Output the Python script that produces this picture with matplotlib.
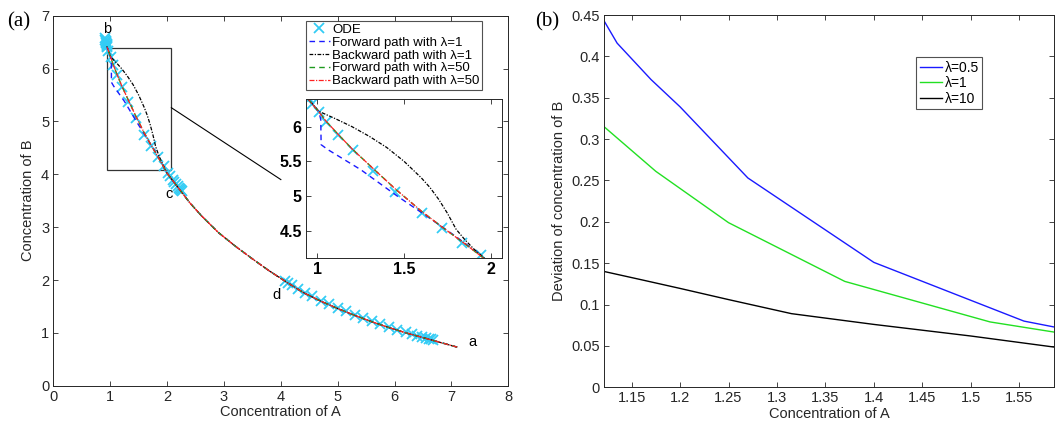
# Reaction paths (a) and deviation of B (b)
import matplotlib
matplotlib.use('Agg')
import matplotlib.pyplot as plt
from matplotlib.patches import Rectangle

plt.rcParams['font.family'] = ['Liberation Sans', 'DejaVu Sans']

# --- panel (a) data ---
# shared lower branch, from a back to c
lower_A = [7.10, 6.80, 6.50, 6.20, 5.90, 5.60, 5.30, 5.00, 4.70, 4.40, 4.10,
           3.80, 3.50, 3.20, 2.90, 2.60, 2.40, 2.20, 2.00]
lower_B = [0.73, 0.82, 0.91, 1.00, 1.10, 1.21, 1.33, 1.46, 1.60, 1.76, 1.96,
           2.17, 2.40, 2.64, 2.90, 3.22, 3.46, 3.74, 4.02]

# upper branches, from c up to b
fwd1_A = [1.96, 1.92, 1.79, 1.63, 1.46, 1.25, 1.06, 1.022, 1.02, 1.01, 0.94]
fwd1_B = [4.10, 4.19, 4.43, 4.71, 5.00, 5.38, 5.67, 5.74, 6.10, 6.21, 6.42]
bwd1_A = [1.96, 1.90, 1.85, 1.80, 1.75, 1.70, 1.65, 1.60, 1.50, 1.40, 1.30,
          1.20, 1.10, 1.01, 0.94]
bwd1_B = [4.11, 4.24, 4.37, 4.52, 4.75, 4.95, 5.12, 5.26, 5.50, 5.70, 5.86,
          6.00, 6.12, 6.22, 6.42]
fwd50_A = [1.96, 1.84, 1.72, 1.60, 1.45, 1.32, 1.20, 1.12, 1.05, 1.01, 0.97, 0.94]
fwd50_B = [4.10, 4.33, 4.55, 4.78, 5.10, 5.40, 5.68, 5.89, 6.08, 6.21, 6.33, 6.42]
bwd50_A = fwd50_A
bwd50_B = fwd50_B

ode_A = [0.905, 0.915, 0.92, 0.925, 0.93, 0.935, 0.94, 0.945, 0.95,
         0.969, 1.010, 1.052, 1.122, 1.203, 1.319, 1.448, 1.602, 1.718, 1.834, 1.946,
         2.02, 2.06, 2.10, 2.13, 2.16, 2.19, 2.21, 2.23, 2.25, 2.26,
         4.07, 4.13, 4.20, 4.30, 4.42, 4.55, 4.70, 4.85, 5.00, 5.15, 5.30, 5.45,
         5.60, 5.75, 5.90, 6.05, 6.20, 6.30, 6.40, 6.48, 6.55, 6.60, 6.64, 6.68]
ode_B = [6.57, 6.54, 6.52, 6.50, 6.48, 6.46, 6.44, 6.42, 6.40,
         6.327, 6.214, 6.071, 5.881, 5.657, 5.367, 5.062, 4.748, 4.533, 4.319, 4.152,
         4.02, 3.96, 3.90, 3.86, 3.81, 3.77, 3.74, 3.72, 3.70, 3.68,
         1.99, 1.95, 1.90, 1.83, 1.76, 1.69, 1.61, 1.54, 1.47, 1.41, 1.34, 1.28,
         1.22, 1.16, 1.11, 1.06, 1.01, 0.98, 0.95, 0.925, 0.905, 0.89, 0.88, 0.87]

point_labels = ['a', 'b', 'c', 'd']
point_A = [7.37, 0.95, 2.04, 3.92]
point_B = [0.83, 6.74, 3.63, 1.72]

# --- panel (b) data ---
dev05_A = [1.1215, 1.135, 1.17, 1.20, 1.27, 1.40, 1.555, 1.59]
dev05_B = [0.443, 0.416, 0.372, 0.339, 0.253, 0.151, 0.080, 0.072]
dev1_A = [1.1215, 1.175, 1.25, 1.37, 1.52, 1.59]
dev1_B = [0.315, 0.261, 0.199, 0.128, 0.079, 0.066]
dev10_A = [1.1215, 1.16, 1.20, 1.25, 1.315, 1.40, 1.50, 1.59]
dev10_B = [0.140, 0.130, 0.1195, 0.106, 0.089, 0.076, 0.062, 0.048]

DARK = '#262626'
ODE_COLOR = '#33ccf5'


def style_axes(ax, fs=10.5):
    ax.tick_params(direction='in', top=True, right=True, length=3.5, width=0.6,
                   labelsize=fs, colors=DARK, pad=3)
    for s in ax.spines.values():
        s.set_color(DARK)
        s.set_linewidth(0.7)


def draw_paths(ax, with_labels=False):
    lab = (lambda s: s) if with_labels else (lambda s: None)
    ax.plot(ode_A, ode_B, 'x', color=ODE_COLOR, ms=7, mew=1.3, label=lab('ODE'))
    ax.plot(lower_A + fwd1_A, lower_B + fwd1_B, color='#1a1aff',
            lw=1.0, ls=(0, (4, 3)), label=lab('Forward path with λ=1'))
    ax.plot(lower_A + bwd1_A, lower_B + bwd1_B, color='black',
            lw=0.9, ls=(0, (3, 1.2, 1, 1.2)), label=lab('Backward path with λ=1'))
    ax.plot(lower_A + fwd50_A, lower_B + fwd50_B, color='#1f9a1f',
            lw=1.0, ls=(0, (4, 3)), label=lab('Forward path with λ=50'))
    ax.plot(lower_A + bwd50_A, lower_B + bwd50_B, color='#ff2020',
            lw=0.9, ls=(0, (4, 1.2, 1, 1.2)), label=lab('Backward path with λ=50'))


fig = plt.figure(figsize=(10.56, 4.24), dpi=100)

# ---- (a) main ----
ax = fig.add_axes([0.0505, 0.0903, 0.4309, 0.8726])
draw_paths(ax, with_labels=True)
for s, x, y in zip(point_labels, point_A, point_B):
    ax.text(x, y, s, fontsize=10.5, ha='center', va='center', color='black')
ax.add_patch(Rectangle((0.94, 4.09), 1.135, 2.30, fill=False, ec='#333333', lw=0.9))
ax.plot([2.075, 4.0], [5.26, 3.90], color='black', lw=0.8)
ax.set_xlim(0, 8)
ax.set_ylim(0, 7)
ax.set_xticks(range(0, 9))
ax.set_yticks(range(0, 8))
ax.set_xlabel('Concentration of A', fontsize=10.5, color=DARK, labelpad=1)
ax.set_ylabel('Concentration of B', fontsize=10.5, color=DARK, labelpad=4)
style_axes(ax)
leg = ax.legend(loc='upper left', bbox_to_anchor=(0.555, 0.986), fontsize=9.5,
                frameon=True, fancybox=False, edgecolor=DARK, handlelength=1.6,
                handletextpad=0.2, borderpad=0.2, labelspacing=0.05,
                borderaxespad=0, numpoints=1)
leg.get_frame().set_linewidth(0.8)

# ---- (a) inset ----
axi = fig.add_axes([0.2898, 0.3908, 0.1853, 0.375])
draw_paths(axi)
axi.set_xlim(0.935, 2.063)
axi.set_ylim(4.10, 6.395)
style_axes(axi, fs=11.5)
axi.set_xticks([1, 1.5, 2])
axi.set_xticklabels(['1', '1.5', '2'], fontweight='bold', color='black')
axi.set_yticks([4.5, 5, 5.5, 6])
axi.set_yticklabels(['4.5', '5', '5.5', '6'], fontweight='bold', color='black')

# ---- (b) ----
axb = fig.add_axes([0.572, 0.0866, 0.4261, 0.878])
axb.plot(dev05_A, dev05_B, color='#1a1aff', lw=1.0, label='λ=0.5')
axb.plot(dev1_A, dev1_B, color='#22e022', lw=1.0, label='λ=1')
axb.plot(dev10_A, dev10_B, color='black', lw=1.0, label='λ=10')
axb.set_xlim(1.1215, 1.586)
axb.set_ylim(0, 0.45)
xt = [1.15, 1.2, 1.25, 1.3, 1.35, 1.4, 1.45, 1.5, 1.55]
axb.set_xticks(xt)
axb.set_xticklabels(['1.15', '1.2', '1.25', '1.3', '1.35', '1.4', '1.45', '1.5', '1.55'])
yt = [0, 0.05, 0.1, 0.15, 0.2, 0.25, 0.3, 0.35, 0.4, 0.45]
axb.set_yticks(yt)
axb.set_yticklabels(['0', '0.05', '0.1', '0.15', '0.2', '0.25', '0.3', '0.35', '0.4', '0.45'])
axb.set_xlabel('Concentration of A', fontsize=10.5, color=DARK, labelpad=1)
axb.set_ylabel('Deviation of concentration of B', fontsize=10.5, color=DARK, labelpad=4)
style_axes(axb)
legb = axb.legend(loc='upper left', bbox_to_anchor=(0.694, 0.886), fontsize=10,
                  frameon=True, fancybox=False, edgecolor=DARK, handlelength=1.6,
                  handletextpad=0.2, borderpad=0.25, labelspacing=0.1, borderaxespad=0)
legb.get_frame().set_linewidth(0.8)

fig.text(0.007, 0.948, '(a)', fontsize=15, family='Liberation Serif', va='center')
fig.text(0.507, 0.948, '(b)', fontsize=15, family='Liberation Serif', va='center')

fig.savefig('out.png', dpi=100)
